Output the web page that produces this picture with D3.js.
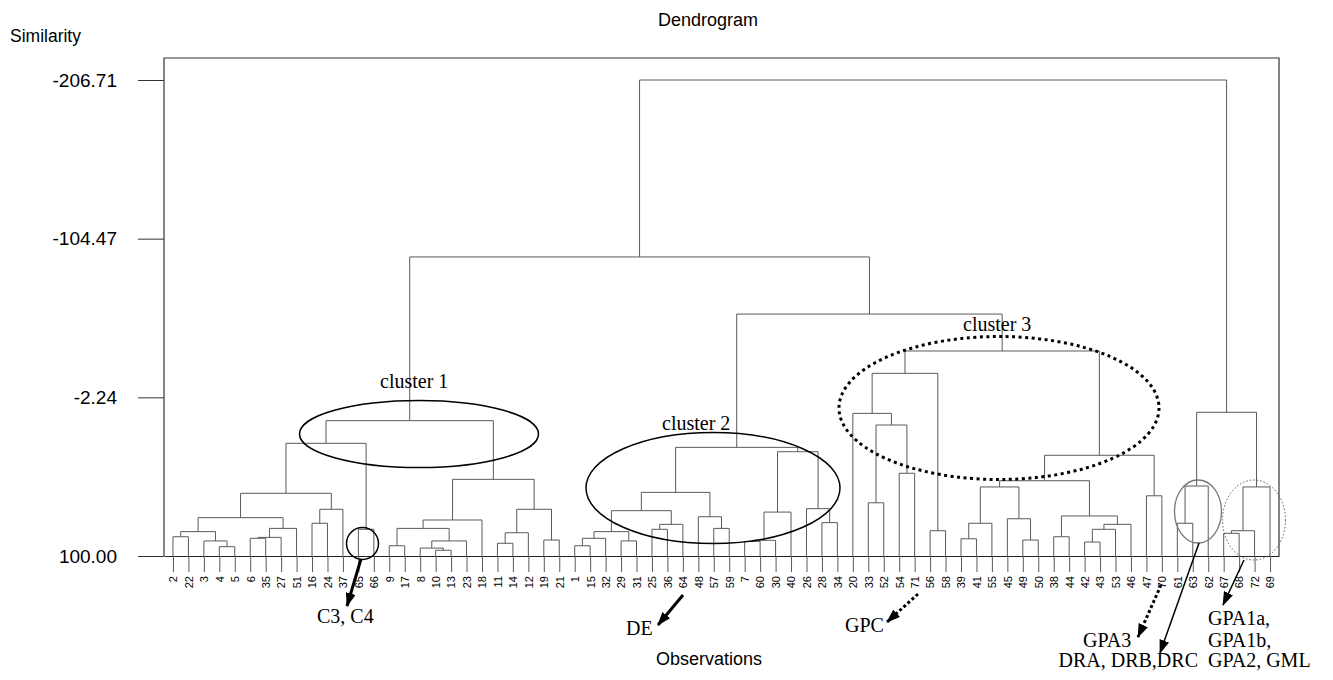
<!DOCTYPE html>
<html>
<head>
<meta charset="utf-8">
<script src="https://cdnjs.cloudflare.com/ajax/libs/d3/7.8.5/d3.min.js"></script>
<style>
  body { margin: 0; background: #fff; }
  svg text { font-family: "Liberation Sans", Arial, sans-serif; fill: #000; }
  svg text.serif { font-family: "Liberation Serif", "Times New Roman", serif; }
</style>
</head>
<body>
<svg id="chart" width="1333" height="680"></svg>
<script>

// leaf order along the x axis
var leaves = ["2","22","3","4","5","6","35","27","51","16","24","37","65","66",
  "9","17","8","10","13","23","18","11","14","12","19","21",
  "1","15","32","29","31","25","36","64","48","57","59","7","60","30","40","26","28","34",
  "20","33","52","54","71","56","58","39","41","55","45","49","50","38","44","42","43","53","46","47","70",
  "61","63","62","67","68","72","69"];

// merges: [left child, right child, similarity]; "#k" = result of merge k
var merges = [
  ["2","22",87.6], ["4","5",94.0], ["3","#1",90.3], ["#0","#2",84.3],
  ["6","35",88.6], ["#4","27",88.0], ["#5","51",82.2], ["#3","#6",75.3],
  ["16","24",78.9], ["#8","37",69.9], ["#7","#9",59.6], ["65","66",82.8],
  ["#10","#11",27.4],
  ["9","17",93.4], ["10","13",96.3], ["8","#14",94.9], ["#15","23",90.3],
  ["#13","#16",82.2], ["#17","18",76.8], ["11","14",91.8], ["#19","12",85.0],
  ["19","21",89.7], ["#20","#21",69.9], ["#18","#22",50.6],
  ["#12","#23",12.8],
  ["1","15",93.4], ["#25","32",88.6], ["29","31",90.3], ["#26","#27",84.3],
  ["25","36",82.8], ["#29","64",79.6], ["#28","#30",70.8], ["57","59",82.2],
  ["48","#32",74.7], ["#31","#33",59.0], ["7","60",90.6], ["#35","30",89.9],
  ["#36","40",71.7], ["28","34",78.5], ["26","#38",69.5], ["#37","#39",32.8],
  ["#34","#40",30.0],
  ["33","52",65.7], ["54","71",46.7], ["#42","#43",15.6], ["20","#44",8.1],
  ["56","58",83.7], ["#45","#46",-17.7], ["39","41",88.9], ["#48","55",78.9],
  ["49","50",89.7], ["45","#50",76.0], ["#49","#51",55.5], ["38","44",87.6],
  ["42","43",91.0], ["#54","53",82.8], ["#55","46",79.6], ["#53","#56",74.2],
  ["#52","#57",51.5], ["47","70",61.2], ["#58","#59",35.1], ["#47","#60",-32.1],
  ["#41","#61",-55.9], ["#24","#62",-92.7],
  ["61","63",78.9], ["#64","62",54.9], ["67","68",85.4], ["#66","72",83.7],
  ["#67","69",55.5], ["#65","#68",7.4],
  ["#63","#69",-206.71]
];

var yTicks = [-206.71, -104.47, -2.24, 100.00];

var svg = d3.select("#chart");

var x = d3.scalePoint().domain(leaves).range([164, 1279]).padding(0.58);
var y = d3.scaleLinear().domain([-206.71, 100]).range([80, 556]);

var treeColor = "#5a5a5a";

// frame
svg.append("path")
  .attr("d", "M164,556 V58 H1279 V556")
  .attr("fill", "none").attr("stroke", "#333").attr("stroke-width", 1.2);

// build node positions
var nodes = {};
leaves.forEach(function (l) { nodes[l] = { x: x(l), h: 100 }; });
merges.forEach(function (m, i) {
  var a = nodes[m[0]], b = nodes[m[1]];
  nodes["#" + i] = { x: (a.x + b.x) / 2, h: m[2], a: a, b: b };
});

svg.append("g").selectAll("path")
  .data(merges.map(function (m, i) { return nodes["#" + i]; }))
  .enter().append("path")
  .attr("fill", "none")
  .attr("stroke", treeColor)
  .attr("stroke-width", 1)
  .attr("d", function (n) {
    return "M" + n.a.x + "," + y(n.a.h) + " V" + y(n.h) + " H" + n.b.x + " V" + y(n.b.h);
  });

// x axis: leaves
var xAxis = svg.append("g")
  .attr("transform", "translate(0,556)")
  .call(d3.axisBottom(x).tickSize(16).tickSizeOuter(0));
xAxis.select(".domain").attr("stroke", "#222").attr("stroke-width", 1.2);
xAxis.selectAll(".tick line").attr("stroke", treeColor);
xAxis.selectAll(".tick text")
  .attr("transform", "rotate(-90)")
  .attr("x", -20).attr("y", 0).attr("dy", "0.35em")
  .style("text-anchor", "end")
  .style("font-size", "11px");

// y axis
var yAxis = svg.append("g")
  .attr("transform", "translate(164,0)")
  .call(d3.axisLeft(y).tickValues(yTicks)
    .tickFormat(function (d) { return d.toFixed(2); })
    .tickSize(26).tickPadding(21));
yAxis.select(".domain").remove();
yAxis.selectAll(".tick line").attr("stroke", "#333");
yAxis.selectAll(".tick text").style("font-size", "19px");

// titles
svg.append("text").attr("x", 708).attr("y", 26).attr("text-anchor", "middle")
  .style("font-size", "18px").text("Dendrogram");
svg.append("text").attr("x", 709).attr("y", 665).attr("text-anchor", "middle")
  .style("font-size", "18px").text("Observations");
svg.append("text").attr("x", 10).attr("y", 42)
  .style("font-size", "17.5px").text("Similarity");

// annotations
var defs = svg.append("defs");
defs.append("marker")
  .attr("id", "head").attr("markerUnits", "userSpaceOnUse")
  .attr("viewBox", "0 0 14 10").attr("refX", 13).attr("refY", 5)
  .attr("markerWidth", 14).attr("markerHeight", 10).attr("orient", "auto")
  .append("path").attr("d", "M0,0 L14,5 L0,10 Z").attr("fill", "#000");

var ann = svg.append("g").attr("fill", "none");

ann.append("ellipse").attr("cx", 419).attr("cy", 434).attr("rx", 119.5).attr("ry", 33.5)
  .attr("stroke", "#000").attr("stroke-width", 1.5);
ann.append("ellipse").attr("cx", 713).attr("cy", 488).attr("rx", 127).attr("ry", 55.5)
  .attr("stroke", "#000").attr("stroke-width", 1.5);
ann.append("ellipse").attr("cx", 999).attr("cy", 408).attr("rx", 160).attr("ry", 71.5)
  .attr("stroke", "#000").attr("stroke-width", 3).attr("stroke-dasharray", "3,3.5");
ann.append("circle").attr("cx", 362.5).attr("cy", 543.5).attr("r", 16)
  .attr("stroke", "#000").attr("stroke-width", 1.5);
ann.append("ellipse").attr("cx", 1198).attr("cy", 511.5).attr("rx", 23.5).attr("ry", 31.5)
  .attr("stroke", "#777").attr("stroke-width", 1.3);
ann.append("ellipse").attr("cx", 1254).attr("cy", 520).attr("rx", 31.5).attr("ry", 40)
  .attr("stroke", "#555").attr("stroke-width", 1).attr("stroke-dasharray", "1.5,2");

function arrow(x1, y1, x2, y2, w, dash) {
  var p = ann.append("path")
    .attr("d", "M" + x1 + "," + y1 + " L" + x2 + "," + y2)
    .attr("stroke", "#000").attr("stroke-width", w)
    .attr("marker-end", "url(#head)");
  if (dash) p.attr("stroke-dasharray", dash);
}
arrow(361, 559, 347, 606, 3);
arrow(683, 595, 658, 625, 3);
arrow(918, 594, 887, 622, 3, "3,2.5");
arrow(1161, 585, 1138, 637, 3, "3,2.5");
arrow(1199, 543, 1160, 653, 1.5);
arrow(1244, 560, 1223, 605, 1.5);

function note(tx, ty, str, anchor) {
  svg.append("text").attr("class", "serif")
    .attr("x", tx).attr("y", ty)
    .attr("text-anchor", anchor || "start")
    .style("font-size", "20px").text(str);
}
note(380, 388, "cluster 1");
note(662, 430, "cluster 2");
note(963, 331, "cluster 3");
note(317, 623, "C3, C4");
note(626, 635, "DE");
note(845, 632, "GPC");
note(1083, 647, "GPA3");
note(1198, 667, "DRA, DRB,DRC", "end");
note(1208, 625, "GPA1a,");
note(1208, 647, "GPA1b,");
note(1208, 667, "GPA2, GML");

</script>
</body>
</html>
